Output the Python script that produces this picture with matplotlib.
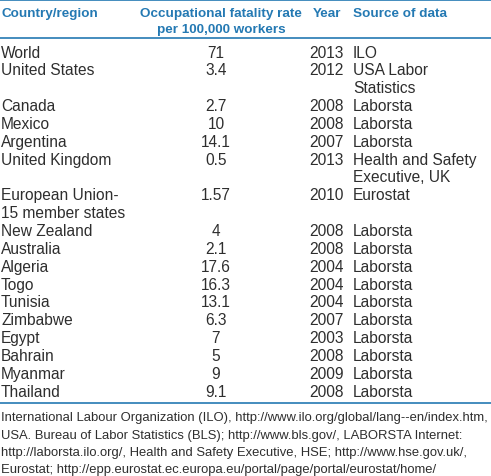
import matplotlib
matplotlib.use("Agg")
from matplotlib import pyplot as plt

# table content
countries = ["World", "United States", "Canada", "Mexico", "Argentina", "United Kingdom",
             "European Union-\n15 member states", "New Zealand", "Australia", "Algeria",
             "Togo", "Tunisia", "Zimbabwe", "Egypt", "Bahrain", "Myanmar", "Thailand"]
rates = ["71", "3.4", "2.7", "10", "14.1", "0.5", "1.57", "4", "2.1", "17.6",
         "16.3", "13.1", "6.3", "7", "5", "9", "9.1"]
years = ["2013", "2012", "2008", "2008", "2007", "2013", "2010", "2008", "2008", "2004",
         "2004", "2004", "2007", "2003", "2008", "2009", "2008"]
sources = ["ILO", "USA Labor\nStatistics", "Laborsta", "Laborsta", "Laborsta",
           "Health and Safety\nExecutive, UK", "Eurostat", "Laborsta", "Laborsta", "Laborsta",
           "Laborsta", "Laborsta", "Laborsta", "Laborsta", "Laborsta", "Laborsta", "Laborsta"]
headers = ["Country/region", "Occupational fatality rate\nper 100,000 workers", "Year", "Source of data"]
footnote = ["International Labour Organization (ILO), http://www.ilo.org/global/lang--en/index.htm,",
            "USA. Bureau of Labor Statistics (BLS); http://www.bls.gov/, LABORSTA Internet:",
            "http://laborsta.ilo.org/, Health and Safety Executive, HSE; http://www.hse.gov.uk/,",
            "Eurostat; http://epp.eurostat.ec.europa.eu/portal/page/portal/eurostat/home/"]

W, H = 491, 477
blue = "#2479b3"
ink = "#2e2e2e"
plt.rcParams['font.family'] = ['Liberation Sans', 'DejaVu Sans']

fig = plt.figure(figsize=(W / 100, H / 100), dpi=100)

def put(x, y, s, **kw):
    fig.text(x / W, 1 - y / H, s, va="center", **kw)

def hline(y):
    fig.add_artist(plt.Line2D([0, 1], [1 - y / H, 1 - y / H], color=blue, lw=1.2))

fs = 11.2
hfs = 9.7
x_country, x_rate, x_year, x_source = 1, 216, 344, 353

# header
hline(1)
put(x_country, 14, headers[0], fontsize=hfs, fontweight="bold", color=blue)
for i, line in enumerate(headers[1].split("\n")):
    put(221, 14 + 15.5 * i, line, fontsize=hfs, fontweight="bold", color=blue, ha="center")
put(341, 14, headers[2], fontsize=hfs, fontweight="bold", color=blue, ha="right")
put(x_source, 14, headers[3], fontsize=hfs, fontweight="bold", color=blue)
hline(38.5)

# body
step = 17.85
y = 53
for c, r, yr, s in zip(countries, rates, years, sources):
    c_lines = c.split("\n")
    s_lines = s.split("\n")
    for k, line in enumerate(c_lines):
        put(x_country, y + k * step, line, fontsize=fs, color=ink)
    put(x_rate, y, r, fontsize=fs, color=ink, ha="center")
    put(x_year, y, yr, fontsize=fs, color=ink, ha="right")
    for k, line in enumerate(s_lines):
        put(x_source, y + k * step, line, fontsize=fs, color=ink)
    y += step * max(len(c_lines), len(s_lines))

hline(404)

# footnote
for k, line in enumerate(footnote):
    put(x_country, 418.5 + k * 17.1, line, fontsize=9.4, color=ink)

fig.savefig("out.png", dpi=100)
